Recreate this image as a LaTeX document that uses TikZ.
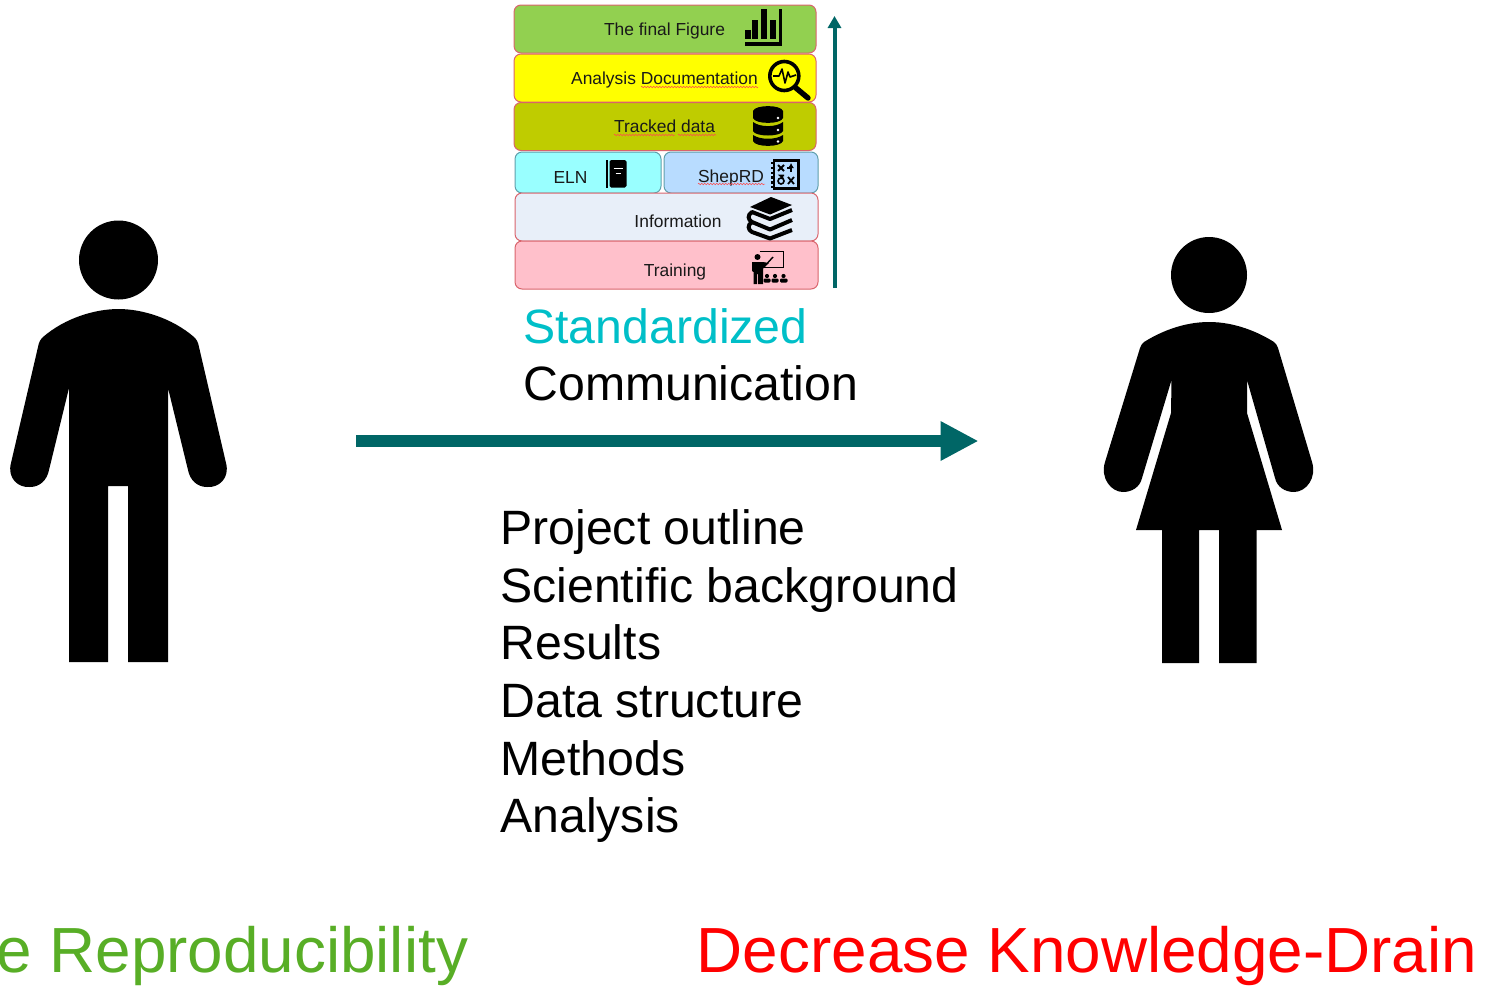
\documentclass[tikz,border=0pt]{standalone}
\usepackage{fontspec}
\setmainfont{Liberation Sans}
\usetikzlibrary{arrows.meta,decorations.pathmorphing}
\definecolor{tealdark}{HTML}{006666}
\definecolor{stdcyan}{HTML}{00BFC8}
\definecolor{reprogreen}{HTML}{58AE26}
\definecolor{boxred}{HTML}{D9646C}
\definecolor{boxteal}{HTML}{5F9FAB}
\definecolor{anayellow}{HTML}{FFFF00}
\tikzset{
laybox/.style={rectangle, rounded corners=3.5pt, draw=boxred, line width=0.5pt, inner sep=0pt},
laytext/.style={anchor=base, font=\fontsize{8.7}{10}\selectfont, text=black!90, inner sep=0pt},
bigtext/.style={anchor=base west, font=\fontsize{24.1}{29}\selectfont, inner sep=0pt},
endtext/.style={font=\fontsize{31.9}{38}\selectfont, inner sep=0pt},
squiggle/.style={draw=red!70, line width=0.25pt, decorate, decoration={zigzag, segment length=1.5pt, amplitude=0.35pt}}
}
\begin{document}
\begin{tikzpicture}[x=0.5pt,y=-0.5pt]
\useasboundingbox (0,0) rectangle (1491,985);
% layers
\node[laybox, fill={rgb,255:red,146;green,208;blue,80}, minimum width=151pt, minimum height=24pt] (layfig) at (665,29){};
\node[laybox, fill=anayellow, minimum width=151pt, minimum height=24pt] (layana) at (665,78){};
\node[laybox, fill={rgb,255:red,191;green,204;blue,0}, minimum width=151pt, minimum height=24pt] (laytrack) at (665,126.5){};
\node[laybox, draw=boxteal, fill={rgb,255:red,153;green,255;blue,255}, minimum width=73pt, minimum height=20.5pt] (layeln) at (588,172.5){};
\node[laybox, draw=boxteal, fill={rgb,255:red,184;green,220;blue,255}, minimum width=77pt, minimum height=20.5pt] (layshep) at (741,172.5){};
\node[laybox, fill={rgb,255:red,232;green,239;blue,249}, minimum width=151.5pt, minimum height=24pt] (layinfo) at (666.5,217){};
\node[laybox, fill={rgb,255:red,255;green,192;blue,203}, minimum width=151.5pt, minimum height=24pt] (laytrain) at (666.5,265){};
\node[laytext] (txtfig) at (664.5,35){The final Figure};
\node[laytext] (txtana) at (664.5,84){Analysis Documentation};
\node[laytext] (txttrack) at (664.5,132){Tracked data};
\node[laytext] (txteln) at (570.5,183.5){ELN};
\node[laytext] (txtshep) at (731,182){ShepRD};
\node[laytext] (txtinfo) at (678,227.5){Information};
\node[laytext] (txttrain) at (675,276.5){Training};
\path[squiggle] (641,87) -- (758,87);
\path[squiggle] (614,135) -- (675,135);
\path[squiggle] (678,135) -- (716,135);
\path[squiggle] (698,184) -- (765,184);
% bar chart icon
\fill (745,29.5) rectangle (750.7,38.5);
\fill (752.3,19.5) rectangle (758.3,38.5);
\fill (761,8.5) rectangle (767.3,38.5);
\fill (770,20) rectangle (776,38.5);
\fill (778.7,8.5) rectangle (781.7,45.5);
\fill (745,41.7) rectangle (781.7,45.5);
% magnifier icon
\draw[line width=1.8pt] (784.3,76) circle (14.5);
\draw[line width=2.7pt, line cap=round] (796,88) -- (808,98);
\draw[line width=0.8pt, line join=round] (773,76) -- (779,76) -- (782,69) -- (785,83) -- (788,72) -- (790,77) -- (796,75);
% database icon
\fill (753,111) .. controls (755,104.5) and (781,104.5) .. (783,111) -- (783,118) .. controls (781,124.5) and (755,124.5) .. (753,118) -- cycle;
\fill (753,122) .. controls (760,127.5) and (776,127.5) .. (783,122) -- (783,131) .. controls (781,137) and (755,137) .. (753,131) -- cycle;
\fill (753,135) .. controls (760,140) and (776,140) .. (783,135) -- (783,141) .. controls (781,147.5) and (755,147.5) .. (753,141) -- cycle;
\fill[white] (778,118) circle (1.3);
\fill[white] (778,130) circle (1.3);
\fill[white] (778,141.5) circle (1.3);
% notebook icon
\fill (606,160) rectangle (608.3,187.5);
\fill[rounded corners=0.8pt] (609.5,160) rectangle (626.5,187.5);
\draw[white, line width=0.5pt] (613.5,168.5) -- (622.5,168.5);
\draw[white, line width=0.5pt] (615.5,173) -- (620.5,173);
% math notebook icon
\draw[line width=1.2pt] (774,160.5) rectangle (798.5,188.5);
\draw[line width=1pt, dash pattern=on 1.2pt off 1.2pt] (772,162) -- (772,188);
\draw[line width=0.9pt] (778,165) -- (784,171) (784,165) -- (778,171);
\draw[line width=0.9pt, -{Latex[length=2.5pt,width=3pt]}] (791,172) -- (791,163);
\draw[line width=0.9pt] (787,168) -- (791,168);
\draw[line width=0.8pt] (781,181) circle (3);
\draw[line width=0.8pt] (783,178) -- (780,175.5) -- (784,175.5);
\draw[line width=0.9pt] (788,177) -- (794,184) (794,177) -- (788,184);
% books icon
\fill (771,197) -- (792,205) -- (770,214.5) -- (750,207) -- cycle;
\draw[line width=2pt, line join=round] (792,210) -- (770,219) -- (752,212) .. controls (747,215) and (748,220) .. (752,222) -- (770,229.5) -- (792,220);
\draw[line width=2pt, line join=round] (752,222) .. controls (747,225) and (748,230) .. (752,232) -- (770,238.5) -- (792,230);
% teaching icon
\draw[line width=0.6pt] (759.5,251.5) -- (783.5,251.5) -- (783.5,267.5) -- (764,267.5);
\draw[line width=0.7pt] (763,268) -- (773,257);
\fill (757.5,257) circle (3);
\fill (752,262) -- (763,262) -- (769,263) -- (763,268) -- (763,284) -- (758,284) -- (758,274) -- (757,274) -- (757,284) -- (753.5,284) -- (753.5,272) -- (752,271) -- cycle;
\fill (767,276) circle (2.1);
\fill (775,276) circle (2.1);
\fill (783.5,276) circle (2.1);
\fill[rounded corners=0.6pt] (763.5,282.5) rectangle (770.5,278.5);
\fill[rounded corners=0.6pt] (771.5,282.5) rectangle (778.5,278.5);
\fill[rounded corners=0.6pt] (780,282.5) rectangle (787.5,278.5);
% arrows
\coordinate (upstart) at (834.5,288);
\coordinate (upend) at (834.5,16);
\draw[tealdark, line width=2pt, -{Triangle[length=6pt,width=6.5pt]}] (upstart) -- (upend);
\coordinate (mainstart) at (356,441);
\coordinate (mainend) at (978.5,441);
\draw[tealdark, line width=6pt, -{Triangle[length=19pt,width=18.5pt]}] (mainstart) -- (mainend);
% texts
\node[bigtext, text=stdcyan] (stdtext) at (523,343){Standardized};
\node[bigtext] (commtext) at (523,400.5){Communication};
\node[bigtext] (list0) at (500,544.5){Project outline};
\node[bigtext] (list1) at (500,602){Scientific background};
\node[bigtext] (list2) at (500,659.5){Results};
\node[bigtext] (list3) at (500,717){Data structure};
\node[bigtext] (list4) at (500,775){Methods};
\node[bigtext] (list5) at (500,832.5){Analysis};
\node[endtext, anchor=base east, text=reprogreen] (reprotext) at (468.5,972){e Reproducibility};
\node[endtext, anchor=base west, text=red] (draintext) at (696.5,972){Decrease Knowledge-Drain};
% man
\node[circle, fill, minimum size=39.5pt, inner sep=0pt] (manhead) at (118.5,260){};
\fill (118.5,309) .. controls (142,309) and (172,318) .. (194,337) .. controls (197,340) and (198,342) .. (199,347)
 -- (226,463) .. controls (230,478) and (219,488) .. (207,487) .. controls (197,487) and (190,480) .. (188,470)
 -- (168,388) -- (168,662) -- (128,662) -- (128,486) -- (108,486) -- (108,662) -- (69,662) -- (69,388)
 -- (49,470) .. controls (47,480) and (40,487) .. (30,487) .. controls (18,488) and (7,478) .. (11,463)
 -- (38,347) .. controls (39,342) and (40,340) .. (43,337) .. controls (65,318) and (95,309) .. (118.5,309) -- cycle;
% woman
\node[circle, fill, minimum size=38pt, inner sep=0pt] (womanhead) at (1209,275){};
\fill (1209,322) .. controls (1235,322) and (1258,332) .. (1274,342) .. controls (1276,344) and (1277,345) .. (1278,348)
 -- (1312,462) .. controls (1317,478) and (1306,492) .. (1294,492) .. controls (1285,492) and (1277,487) .. (1275,478)
 -- (1247,380) -- (1247,413) -- (1282,530) -- (1256.5,530) -- (1256.5,663) -- (1219,663) -- (1219,530) -- (1199,530) -- (1199,663) -- (1162,663) -- (1162,530) -- (1136,530)
 -- (1171,413) -- (1171.5,380) -- (1142,478) .. controls (1140,487) and (1132,492) .. (1123,492) .. controls (1111,492) and (1100,478) .. (1105,462)
 -- (1140,348) .. controls (1141,345) and (1142,344) .. (1144,342) .. controls (1160,332) and (1183,322) .. (1209,322) -- cycle;
\end{tikzpicture}
\end{document}
